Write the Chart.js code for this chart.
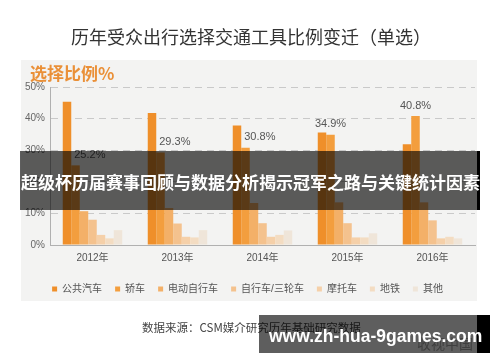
<!DOCTYPE html>
<html>
<head>
<meta charset="utf-8">
<script src="https://cdn.jsdelivr.net/npm/chart.js@4.4.1/dist/chart.umd.min.js"></script>
<style>
html, body { margin: 0; padding: 0; background: #fff; }
#wrap { position: relative; width: 500px; height: 362px; overflow: hidden; font-family: "Liberation Sans", "Noto Sans CJK SC", sans-serif; }
#panel { position: absolute; left: 21px; top: 60px; width: 456px; height: 241px; background: #f3f3f2; }
#chart { position: absolute; left: 0; top: 0; }
.t { position: absolute; white-space: nowrap; }
#title { left: 0; width: 502px; top: 25px; line-height: 23px; text-align: center; font-size: 18px; color: #333; font-family: "Noto Sans CJK SC", sans-serif; }
#sub { left: 30px; top: 62px; line-height: 21px; font-size: 17px; font-weight: bold; color: #ea9038; font-family: "Noto Sans CJK SC", sans-serif; }
#source { left: 142px; top: 319px; line-height: 16px; font-size: 11.5px; color: #444; font-family: "Noto Sans CJK SC", sans-serif; }
#logo { left: 417px; top: 334px; line-height: 18px; font-size: 14px; color: #aaa; font-family: "Noto Sans CJK SC", sans-serif; }
.band { position: absolute; background: rgba(0, 0, 0, 0.63); }
.edge { position: absolute; background: #000; }
#band1 { left: 20px; top: 151px; width: 457px; height: 59px; }
#edge1 { left: 477px; top: 151px; width: 3px; height: 59px; }
#bandText { left: 21px; top: 169px; line-height: 26px; font-size: 17px; font-weight: bold; color: #fff; font-family: "Noto Sans CJK SC", sans-serif; }
#band2 { left: 259px; top: 315px; width: 218px; height: 38px; }
#edge2 { left: 477px; top: 315px; width: 13px; height: 38px; }
#mark { left: 269px; top: 324px; line-height: 24px; font-size: 17.5px; font-weight: bold; color: #fff; font-family: "Liberation Sans", sans-serif; }
</style>
</head>
<body>
<div id="wrap">
  <div id="panel"></div>
  <canvas id="chart" width="500" height="362"></canvas>
  <div class="t" id="title">历年受众出行选择交通工具比例变迁（单选）</div>
  <div class="t" id="sub">选择比例%</div>
  <div class="t" id="source">数据来源：CSM媒介研究历年基础研究数据</div>
  <div class="t" id="logo">收视中国</div>
  <div class="band" id="band1"></div>
  <div class="edge" id="edge1"></div>
  <div class="t" id="bandText">超级杯历届赛事回顾与数据分析揭示冠军之路与关键统计因素</div>
  <div class="band" id="band2"></div>
  <div class="edge" id="edge2"></div>
  <div class="t" id="mark">www.zh-hua-9games.com</div>
</div>
<script>
const years = ['2012年', '2013年', '2014年', '2015年', '2016年'];
const yTicks = [0, 10, 20, 30, 40, 50];

const busShare = [45.3, 41.8, 37.8, 35.6, 31.9];
const carShare = [25.2, 29.3, 30.8, 34.9, 40.8];
const eBikeShare = [10.7, 11.7, 13.3, 13.5, 13.5];
const bikeShare = [8.0, 6.8, 6.9, 6.9, 7.8];
const motoShare = [3.2, 2.6, 2.6, 2.4, 2.1];
const metroShare = [2.1, 2.4, 3.2, 2.4, 2.6];
const otherShare = [4.7, 4.7, 4.6, 3.7, 2.1];

const modeNames = ['公共汽车', '轿车', '电动自行车', '自行车/三轮车', '摩托车', '地铁', '其他'];
const modeColors = ['#ef8f2a', '#f39e3e', '#f3b068', '#f4c28e', '#f5d0a9', '#f3dcc2', '#efe5d9'];
const modeValues = [busShare, carShare, eBikeShare, bikeShare, motoShare, metroShare, otherShare];

const fontFamily = '"Liberation Sans", "Noto Sans CJK SC", sans-serif';

// percent labels over the 轿车 bars
const carLabels = {
  id: 'carLabels',
  afterDatasetsDraw(chart) {
    const ctx = chart.ctx;
    const meta = chart.getDatasetMeta(1);
    ctx.save();
    ctx.font = '11px ' + fontFamily;
    ctx.fillStyle = '#555';
    ctx.textBaseline = 'bottom';
    meta.data.forEach((bar, i) => {
      const shifted = busShare[i] > carShare[i] + 2;
      ctx.textAlign = shifted ? 'left' : 'center';
      const x = shifted ? bar.x - bar.width / 2 + 3 : bar.x;
      ctx.fillText(carShare[i].toFixed(1) + '%', x, bar.y - 5);
    });
    ctx.restore();
  }
};

new Chart(document.getElementById('chart'), {
  type: 'bar',
  data: {
    labels: years,
    datasets: modeNames.map((name, i) => ({
      label: name,
      data: modeValues[i],
      backgroundColor: modeColors[i],
      borderWidth: 0,
      categoryPercentage: 0.7,
      barPercentage: 1.0
    }))
  },
  options: {
    responsive: false,
    animation: false,
    layout: { padding: { left: 20, right: 25, top: 87, bottom: 58 } },
    plugins: {
      tooltip: { enabled: false },
      legend: {
        position: 'bottom',
        labels: {
          boxWidth: 5,
          boxHeight: 5,
          padding: 13,
          color: '#555',
          font: { size: 10, family: fontFamily }
        }
      }
    },
    scales: {
      x: {
        grid: { display: false, drawTicks: false },
        border: { color: '#b0b0b0' },
        ticks: { color: '#555', padding: 7, font: { size: 10, family: fontFamily } }
      },
      y: {
        min: 0,
        max: 50,
        afterFit(scale) { scale.width = 30; },
        afterBuildTicks(scale) { scale.ticks = yTicks.map(v => ({ value: v })); },
        grid: { color: '#c9c9c9', drawTicks: false },
        border: { color: '#b0b0b0', dash: [7, 5] },
        ticks: {
          color: '#666',
          padding: 5,
          font: { size: 10, family: fontFamily },
          callback: v => v + '%'
        }
      }
    }
  },
  plugins: [carLabels]
});
</script>
</body>
</html>
